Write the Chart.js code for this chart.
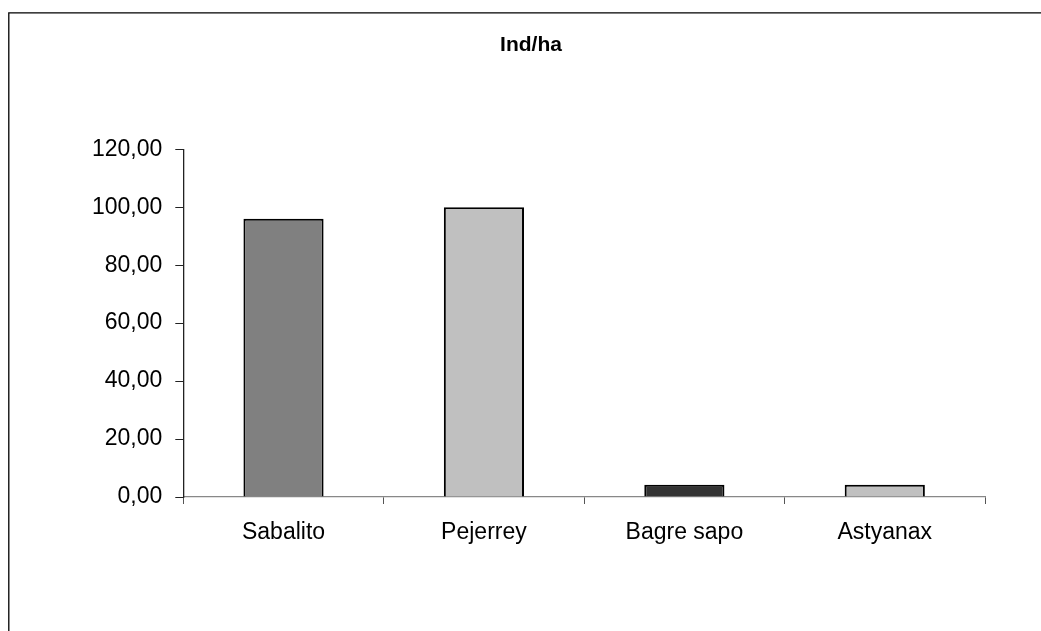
<!DOCTYPE html>
<html>
<head>
<meta charset="utf-8">
<title>Ind/ha</title>
<script src="https://cdn.jsdelivr.net/npm/chart.js@4/dist/chart.umd.min.js"></script>
<style>
  html, body { margin: 0; padding: 0; background: #ffffff; overflow: hidden; }
  #wrap { position: relative; width: 1041px; height: 631px; }
</style>
</head>
<body>
<div id="wrap"><canvas id="chart"></canvas></div>
<script>
// Species sampled and their density (individuals per hectare)
const categories = ['Sabalito', 'Pejerrey', 'Bagre sapo', 'Astyanax'];
const indPerHa = [96.0, 100.0, 4.2, 4.2];
const barColors = ['#808080', '#c0c0c0', '#333333', '#c0c0c0'];
const yTicks = [0, 20, 40, 60, 80, 100, 120];
const titleText = 'Ind/ha';

const FONT = '"Liberation Sans", Arial, Helvetica, sans-serif';

// Frame around the chart and the bold title
const decor = {
  id: 'decor',
  afterDraw(chart) {
    const ctx = chart.ctx;
    ctx.save();
    ctx.strokeStyle = '#000000';
    ctx.lineWidth = 1.3;
    ctx.beginPath();
    ctx.moveTo(8.8, 700);
    ctx.lineTo(8.8, 12.8);
    ctx.lineTo(1100, 12.8);
    ctx.stroke();
    ctx.fillStyle = '#000000';
    ctx.font = 'bold 21px ' + FONT;
    ctx.textAlign = 'center';
    ctx.textBaseline = 'middle';
    ctx.fillText(titleText, 531, 45);
    ctx.restore();
  }
};

new Chart(document.getElementById('chart'), {
  type: 'bar',
  data: {
    labels: categories,
    datasets: [{
      data: indPerHa,
      backgroundColor: barColors,
      borderColor: '#000000',
      borderWidth: 2,
      categoryPercentage: 1.0,
      barPercentage: 0.4
    }]
  },
  options: {
    responsive: true,
    maintainAspectRatio: false,
    animation: false,
    devicePixelRatio: 1,
    layout: { padding: { left: 0, right: 56, top: 149.3, bottom: 0 } },
    plugins: {
      legend: { display: false },
      title: { display: false },
      tooltip: { enabled: false }
    },
    scales: {
      x: {
        offset: true,
        grid: {
          offset: true,
          drawOnChartArea: false,
          drawTicks: true,
          tickLength: 7,
          color: '#555555',
          lineWidth: 1
        },
        border: { display: true, color: '#888888', width: 1.3 },
        ticks: {
          color: '#000000',
          padding: 15,
          font: { family: FONT, size: 23 },
          maxRotation: 0
        },
        afterFit(scale) { scale.height = 134; }
      },
      y: {
        min: 0,
        max: 120,
        afterBuildTicks(scale) { scale.ticks = yTicks.map(v => ({ value: v })); },
        grid: {
          drawOnChartArea: false,
          drawTicks: true,
          tickLength: 8,
          color: '#222222',
          lineWidth: 1
        },
        border: { display: true, color: '#222222', width: 1.3 },
        ticks: {
          color: '#000000',
          padding: 13,
          font: { family: FONT, size: 23 },
          callback: v => Number(v).toFixed(2).replace('.', ',')
        },
        afterFit(scale) { scale.width = 183.3; }
      }
    }
  },
  plugins: [decor]
});
</script>
</body>
</html>
